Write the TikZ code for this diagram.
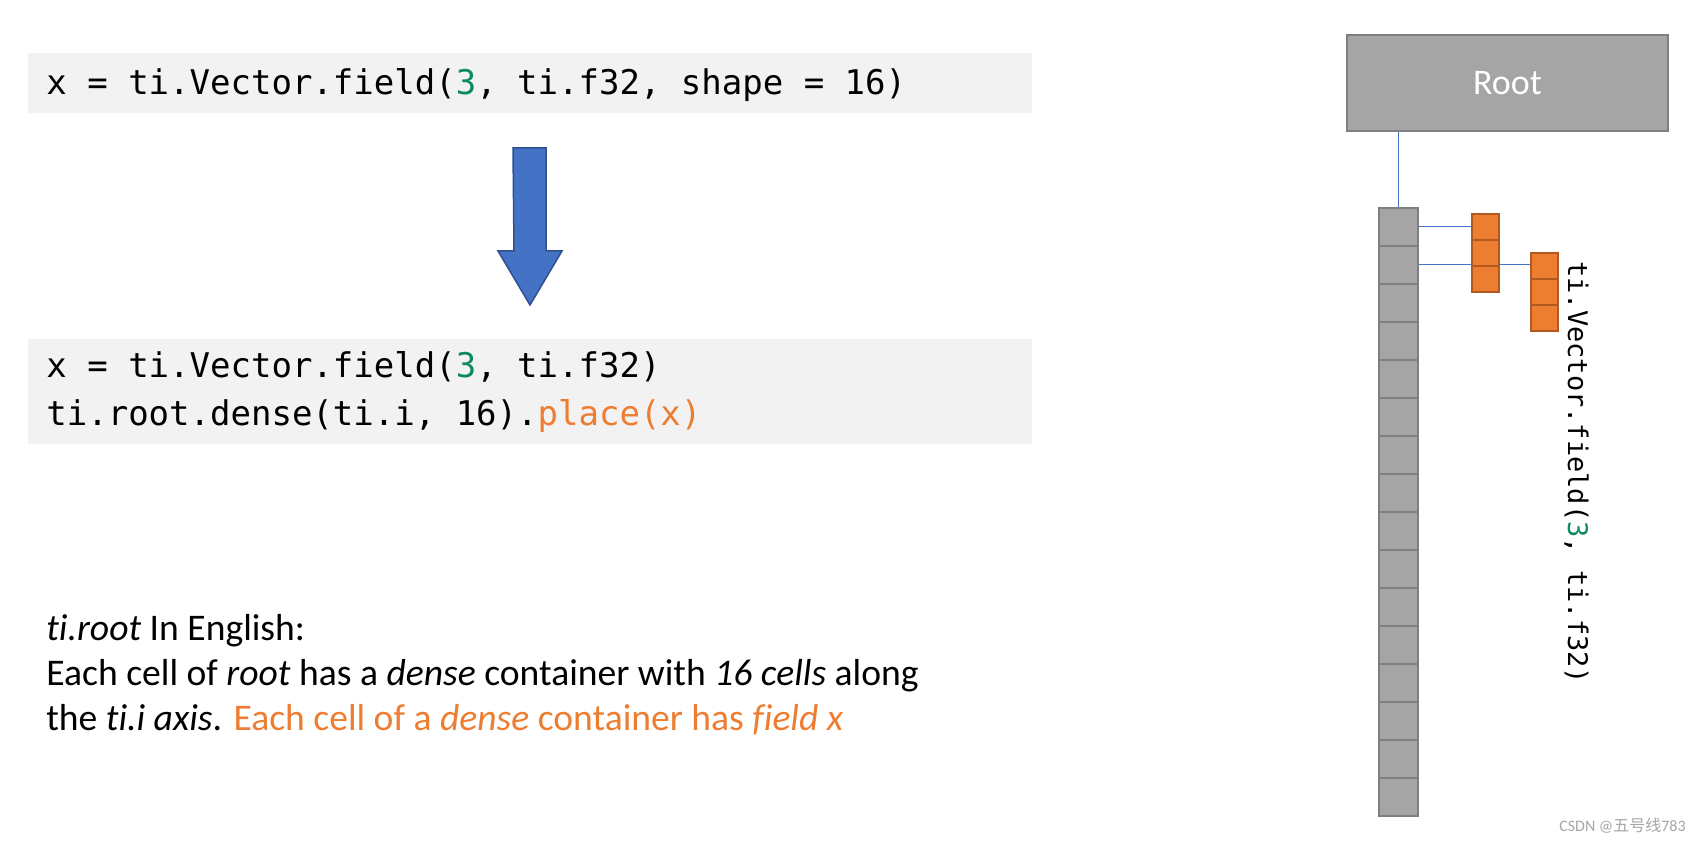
\documentclass[tikz,border=0pt]{standalone}
\usepackage{fontspec}
\setmainfont{Carlito}[Ligatures=NoCommon]
\newfontfamily\codefont{DejaVu Sans Mono}
\newfontfamily\cjkfont{Noto Sans CJK SC}
\usetikzlibrary{positioning,backgrounds}
\definecolor{codebg}{HTML}{F2F2F2}
\definecolor{codegreen}{HTML}{0B8A5F}
\definecolor{accent}{HTML}{ED7D31}
\definecolor{accentdark}{HTML}{B05A22}
\definecolor{cellgray}{HTML}{A5A5A5}
\definecolor{celledge}{HTML}{7F7F7F}
\definecolor{arrowblue}{HTML}{4472C4}
\definecolor{arrowedge}{HTML}{2F528F}

\begin{document}
\begin{tikzpicture}[
     x=0.5pt, y=-0.5pt,
     % define styles
     codebox/.style={
         fill=codebg, anchor=north west,
         inner xsep=9pt, inner ysep=0pt,
         text width=484pt, align=flush left,
         font=\codefont\fontsize{17}{24}\selectfont
     },
     gcell/.style={
         draw=celledge, fill=cellgray, line width=1pt,
         minimum width=19.5pt, minimum height=19pt, inner sep=0pt
     },
     ocell/.style={
         draw=accentdark, fill=accent, line width=1pt,
         minimum width=13.5pt, minimum height=13pt, inner sep=0pt
     },
     link/.style={
         draw=arrowblue, line width=0.5pt
     },
     >=latex
]
\useasboundingbox (0,0) rectangle (1702,844);

% code before and after
\node[codebox, minimum height=30pt, text depth=2pt] (before) at (28,53)
    {x = ti.Vector.field(\textcolor{codegreen}{3}, ti.f32, shape = 16)};
\node[codebox, minimum height=52.5pt] (after) at (28,339)
    {x = ti.Vector.field(\textcolor{codegreen}{3}, ti.f32)\\
     ti.root.dense(ti.i, 16).\textcolor{accent}{place(x)}};

% big block arrow between them
\coordinate (arrowtop) at (529.5,148);
\draw[fill=arrowblue, draw=arrowedge, line width=0.75pt]
    (arrowtop) ++(-16.5,0) -- ++(33,0) -- ++(0,103) -- ++(16,0)
    -- ++(-32,54) -- ++(-32,-54) -- ++(16,0) -- cycle;

% explanation
\node[anchor=north west, inner sep=0pt, align=flush left,
      font=\fontsize{18.8}{22.5}\selectfont] (explain) at (46,614)
    {\textit{ti.root} In English:\\
     Each cell of \textit{root} has a \textit{dense} container with \textit{16 cells} along\\
     the \textit{ti.i axis}. \textcolor{accent}{Each cell of a \textit{dense} container has \textit{field x}}};

% root and its dense cells
\node[draw=celledge, fill=cellgray, line width=1pt, inner sep=0pt,
      minimum width=160.5pt, minimum height=48pt, text=white,
      font=\fontsize{18}{22}\selectfont] (root) at (1507.5,83) {Root};
\foreach \i in {1,...,16}
    \node[gcell] (cell-\i) at (1398.5,{227+38*(\i-1)}) {};

% the vector field of each cell
\foreach \i in {1,2,3} {
    \node[ocell] (fa-\i) at (1485.5,{227+26*(\i-1)}) {};
    \node[ocell] (fb-\i) at (1544.5,{266+26*(\i-1)}) {};
}
\begin{scope}[on background layer]
\draw[link] (cell-1.north) -- (cell-1.north |- root.south);
\draw[link] (cell-1.east) -- (fa-1.west);
\draw[link] (cell-2.east) -- (cell-2.east -| fb-1.west);
\end{scope}

\node[anchor=base west, rotate=-90, inner sep=0pt,
      font=\codefont\fontsize{13.5}{16}\selectfont] (vlabel) at (1568,261)
    {ti.Vector.field(\textcolor{codegreen}{3}, ti.f32)};

\node[anchor=east, inner sep=0pt, text=black!35,
      font=\fontsize{8}{10}\selectfont] (mark) at (1686,826)
    {CSDN @{\cjkfont 五号线}783};
\end{tikzpicture}
\end{document}
